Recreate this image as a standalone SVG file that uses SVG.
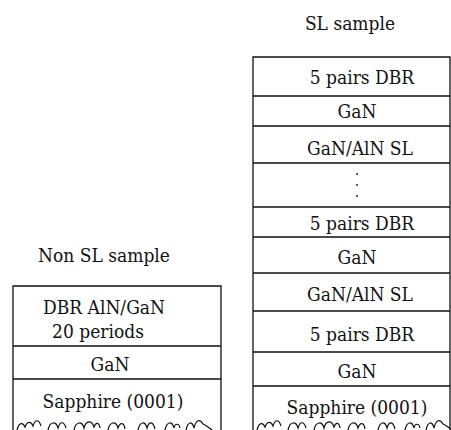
<svg xmlns="http://www.w3.org/2000/svg" width="451" height="430" viewBox="0 0 451 430">
<style>
text{font-family:"DejaVu Serif Condensed","DejaVu Serif",serif;font-stretch:condensed;font-size:19px;fill:#111;text-anchor:middle}
.l{stroke:#111;stroke-width:1.3;fill:none}
.w{stroke:#111;stroke-width:1.2;fill:none}
</style>
<rect width="451" height="430" fill="#fff"/>
<text x="104" y="262">Non SL sample</text>
<text x="350" y="30">SL sample</text>
<g id="nonsl">
<path class="l" d="M13,430 V286 H221 V430 M13,346 H221 M13,379 H221"/>
<text x="104" y="314">DBR AlN/GaN</text>
<text x="98" y="338">20 periods</text>
<text x="110" y="371">GaN</text>
<text x="113" y="408">Sapphire (0001)</text>
<path class="w" d="M17,430 c2,-8 6,-8 8,-3 c2,-6 6,-6 8,-1 c2,-7 6,-7 8,0 M48,430 c2,-9 8,-9 10,-2 c2,-7 6,-7 8,0 M74,430 c2,-9 8,-9 10,-2 c2,-8 8,-8 10,-1 c2,-5 5,-5 6,1 M108,430 c2,-9 8,-9 10,-2 c2,-6 6,-6 7,1 M138,430 c2,-9 7,-9 9,-2 c2,-7 6,-7 8,1 M165,430 c2,-9 7,-9 9,-2 c1,-5 5,-5 6,0 M186,430 c2,-9 6,-9 8,-2 c2,-9 6,-9 9,-4 c3,1 6,4 9,6"/>
</g>
<g id="sl">
<path class="l" d="M253,430 V57 H450 V430 M253,96 H450 M253,126 H450 M253,163 H450 M253,207 H450 M253,237 H450 M253,273 H450 M253,311 H450 M253,352 H450 M253,386 H450"/>
<text x="362" y="84">5 pairs DBR</text>
<text x="357" y="118">GaN</text>
<text x="360" y="155">GaN/AlN SL</text>
<circle cx="357" cy="174" r="0.9" fill="#111"/>
<circle cx="357" cy="185" r="0.9" fill="#111"/>
<circle cx="357" cy="196" r="0.9" fill="#111"/>
<text x="362" y="230">5 pairs DBR</text>
<text x="357" y="264">GaN</text>
<text x="360" y="301">GaN/AlN SL</text>
<text x="362" y="341">5 pairs DBR</text>
<text x="357" y="378">GaN</text>
<text x="357" y="414">Sapphire (0001)</text>
<path class="w" d="M257,430 c2,-8 6,-8 8,-3 c2,-6 6,-6 8,-1 c2,-7 6,-7 8,0 M288,430 c2,-9 8,-9 10,-2 c2,-7 6,-7 8,0 M314,430 c2,-9 8,-9 10,-2 c2,-8 8,-8 10,-1 c2,-5 5,-5 6,1 M348,430 c2,-9 8,-9 10,-2 c2,-6 6,-6 7,1 M378,430 c2,-9 7,-9 9,-2 c2,-7 6,-7 8,1 M405,430 c2,-9 7,-9 9,-2 c1,-5 5,-5 6,0 M426,430 c2,-9 6,-9 8,-2 c2,-9 6,-9 9,-4 c3,1 6,4 9,6"/>
</g>
</svg>
